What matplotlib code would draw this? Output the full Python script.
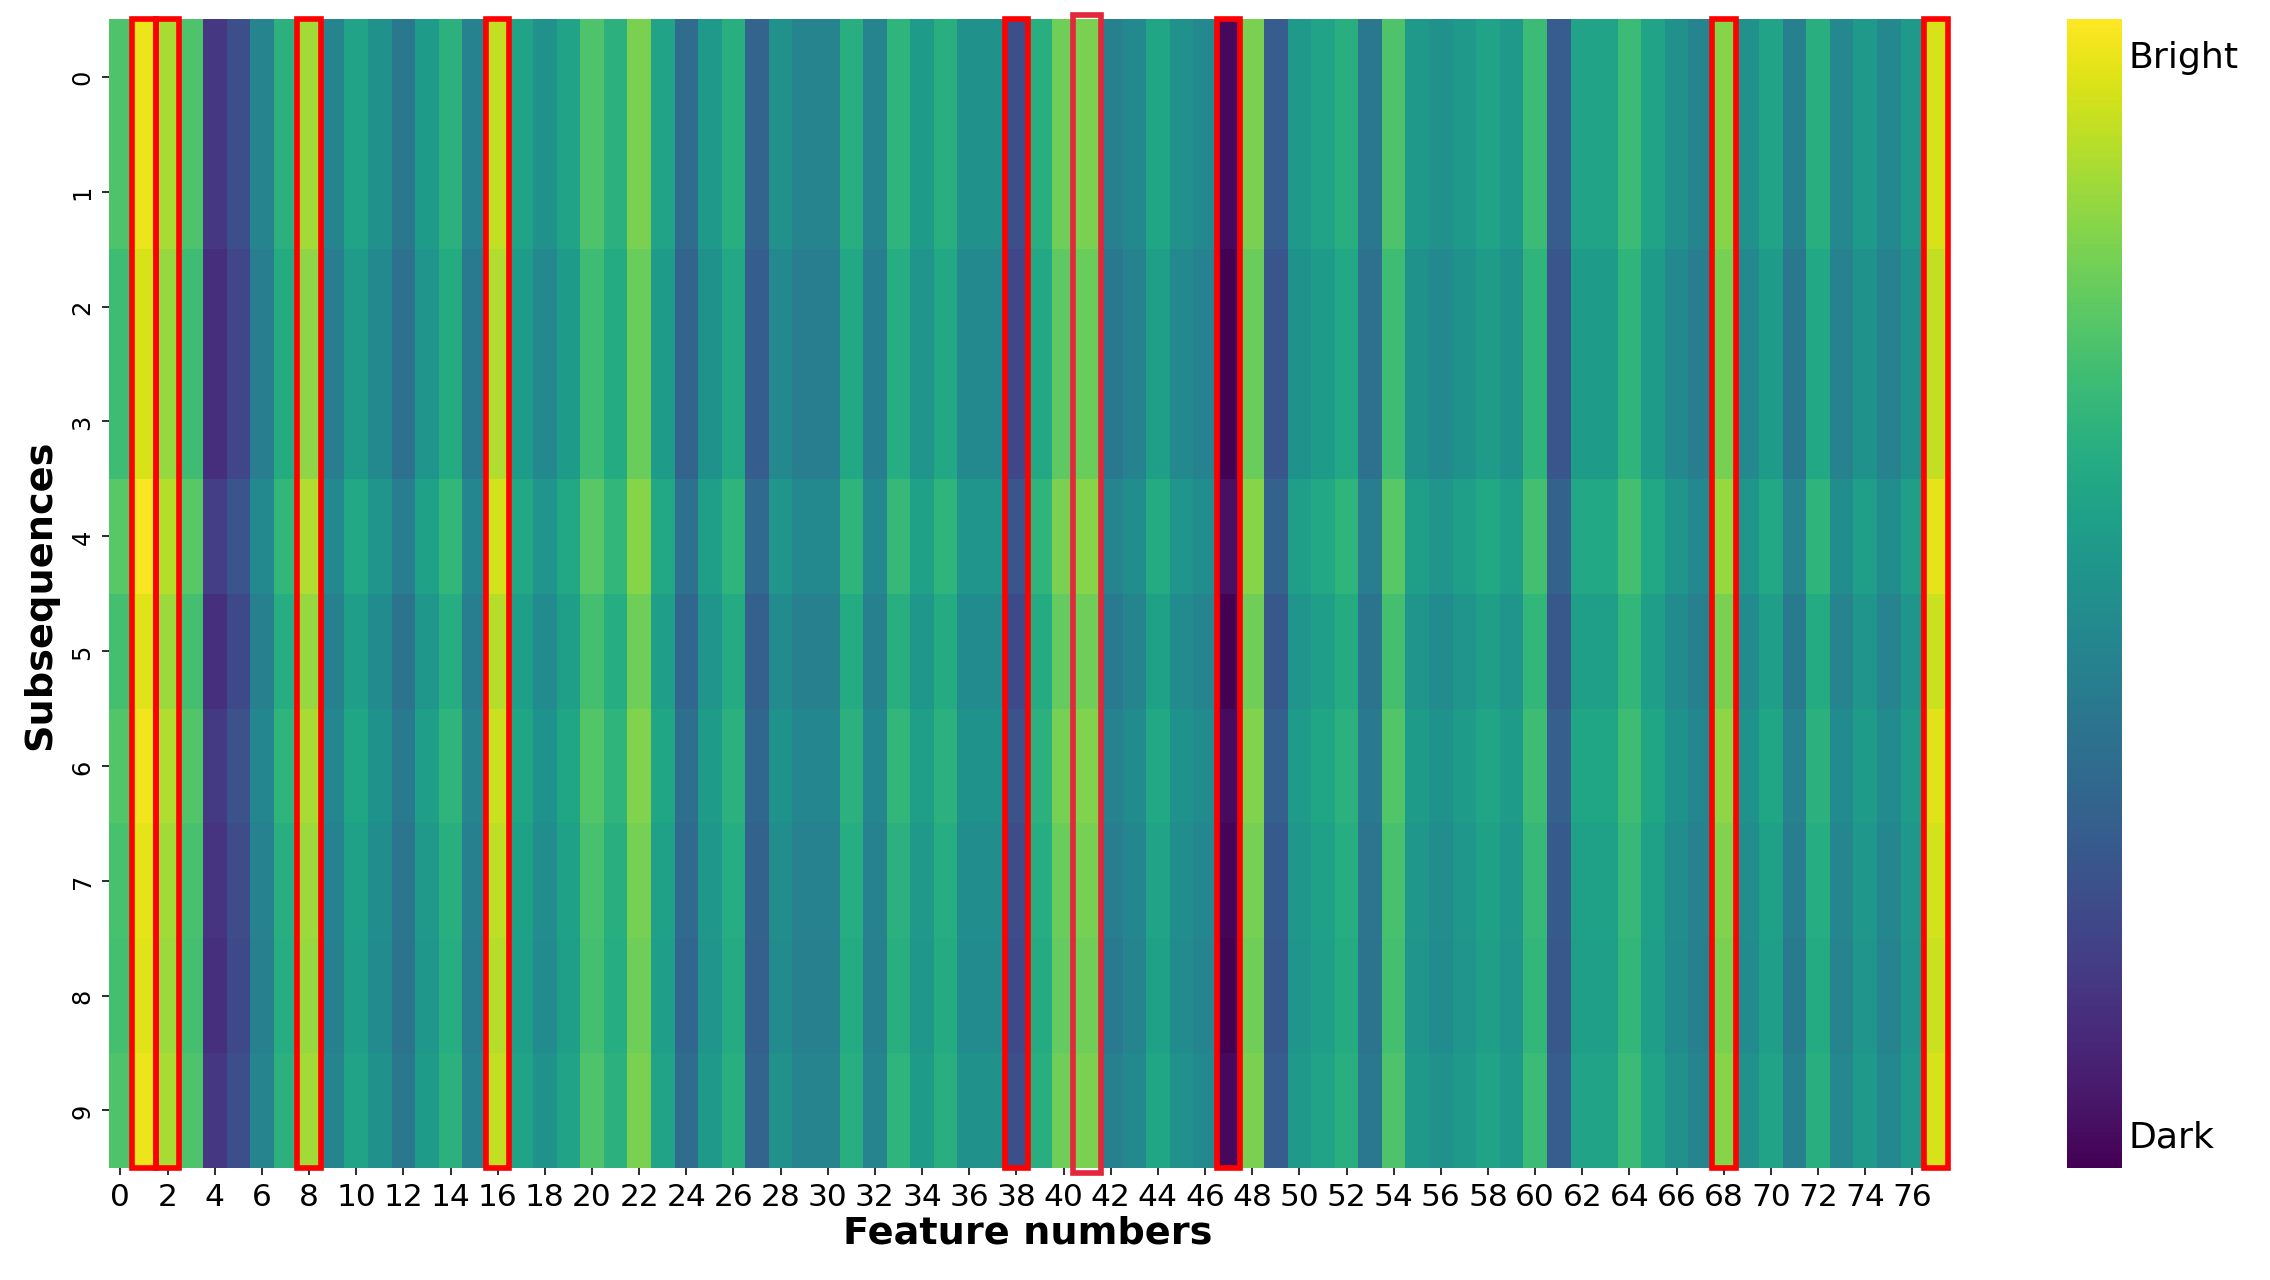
import matplotlib.pyplot as plt
import numpy as np
from matplotlib.patches import Rectangle

# per-feature brightness (0 = dark, 1 = bright)
col_values = [0.72, 0.97, 0.87, 0.72, 0.16, 0.24, 0.45, 0.64, 0.86, 0.45,
              0.58, 0.50, 0.40, 0.55, 0.64, 0.44, 0.91, 0.58, 0.50, 0.58,
              0.72, 0.64, 0.80, 0.58, 0.35, 0.54, 0.63, 0.32, 0.50, 0.45,
              0.45, 0.63, 0.45, 0.65, 0.55, 0.63, 0.50, 0.50, 0.24, 0.63,
              0.78, 0.80, 0.43, 0.47, 0.59, 0.50, 0.47, 0.02, 0.80, 0.29,
              0.54, 0.58, 0.63, 0.40, 0.72, 0.54, 0.50, 0.54, 0.58, 0.54,
              0.68, 0.29, 0.58, 0.58, 0.68, 0.58, 0.50, 0.45, 0.82, 0.50,
              0.58, 0.43, 0.63, 0.47, 0.54, 0.47, 0.54, 0.94]
# small per-subsequence shifts
row_shift = [0.0, 0.0, -0.03, -0.03, 0.02, -0.02, 0.01, -0.01, -0.02, 0.0]
highlight = [1, 2, 8, 16, 38, 47, 68, 77]
highlight_alt = [41]

data = np.clip(np.array(row_shift)[:, None] + np.array(col_values)[None, :], 0, 1)
n_rows, n_cols = data.shape

fig = plt.figure(figsize=(15.66, 8.834), dpi=145)
ax = fig.add_axes([75/1568, 1 - 803/880, 1270/1568, 789/880])
cax = fig.add_axes([1427/1568, 1 - 803/880, 38/1568, 789/880])

im = ax.pcolormesh(np.arange(n_cols + 1), np.arange(n_rows + 1), data,
                   cmap='viridis', vmin=0, vmax=1)
ax.set_xlim(0, n_cols)
ax.set_ylim(n_rows, 0)
ax.set_xticks(np.arange(0, n_cols - 1, 2) + 0.5)
ax.set_xticklabels([str(i) for i in range(0, n_cols - 1, 2)], fontsize=15.5)
ax.set_yticks(np.arange(n_rows) + 0.5)
ax.set_yticklabels([str(i) for i in range(n_rows)], fontsize=12, rotation=90, va='center')
for s in ax.spines.values():
    s.set_visible(False)
ax.set_xlabel('Feature numbers', fontsize=19, fontweight='bold', labelpad=2)
ax.set_ylabel('Subsequences', fontsize=19, fontweight='bold', labelpad=6)

for c in highlight:
    ax.add_patch(Rectangle((c, 0), 1, n_rows, fill=False, edgecolor='red',
                           linewidth=2.8, clip_on=False, zorder=5))
for c in highlight_alt:
    ax.add_patch(Rectangle((c - 0.1, -0.04), 1.2, n_rows + 0.08, fill=False,
                           edgecolor='#e2283a', linewidth=2.8, clip_on=False, zorder=5))

cb = fig.colorbar(im, cax=cax)
cb.outline.set_visible(False)
cb.set_ticks([0.97, 0.03])
cb.set_ticklabels(['Bright', 'Dark'])
cb.ax.tick_params(length=0, labelsize=18)

fig.savefig('out.png', dpi=145)
